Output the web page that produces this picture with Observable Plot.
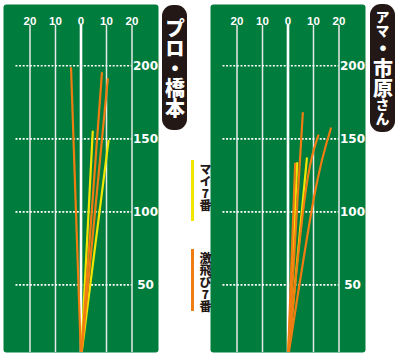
<!DOCTYPE html>
<html><head><meta charset="utf-8">
<script src="https://cdn.jsdelivr.net/npm/d3@7"></script>
<script src="https://cdn.jsdelivr.net/npm/@observablehq/plot@0.6"></script>
<style>
html,body{margin:0;padding:0;background:#fff;}
#wrap{position:relative;width:400px;height:355px;overflow:hidden;font-family:"Noto Sans CJK JP",sans-serif;}
.panel{position:absolute;top:0;}
.panel svg{display:block;}
.title{position:absolute;background:#231815;color:#fff;border-radius:11px;writing-mode:vertical-rl;text-orientation:upright;font-weight:900;display:flex;align-items:center;justify-content:center;line-height:1;}
.lgbar{position:absolute;width:3px;}
.lgtxt{position:absolute;writing-mode:vertical-rl;text-orientation:upright;font-weight:900;font-size:12px;color:#231815;line-height:1;}
</style>
</head><body>
<div id="wrap">
  <div class="panel" id="p1" style="left:0px"></div>
  <div class="panel" id="p2" style="left:207px"></div>
  <div class="title" style="left:162px;top:5px;width:25px;height:125px;font-size:20px;">プロ・橋本</div>
  <div class="title" style="left:370px;top:4px;width:25px;height:128px;font-size:20px;"><span style="font-size:14px">アマ</span>・<span>市原</span><span style="font-size:14px">さん</span></div>
  <div id="legend"></div>
</div>
<script>
// ---- data ----
const xTicks = [-20, -10, 0, 10, 20];
const xTickLabels = ["20", "10", "0", "10", "20"];
const yTicks = [200, 150, 100, 50];
const yTickLabels = ["200", "150", "100", "50"];
const seriesNames = ["マイ7番", "激飛び7番"];
const seriesColors = ["#f2e600", "#ef7d12"];

// プロ・橋本 : end points (lateral, carry)
const proMyEndX = [4.6, 10.8];
const proMyEndY = [154.9, 148.7];
const proGekiEndX = [-3.9, 8.2, 10.5];
const proGekiEndY = [198.4, 195.0, 190.9];

// アマ・市原さん
const amMyEndX = [3.6, 7.4];
const amMyEndY = [133.4, 136.6];
const amGekiEndX = [5.8, 11.9, 16.8, 2.8];
const amGekiEndY = [167.6, 152.3, 157.1, 133.0];
const amGekiMidX = [null, 6.6, 10.2, null];
const amGekiMidY = [null, 110, 110, null];

const GREEN = "#007c3d";

function buildShots(endX, endY, midX, midY, series, prefix) {
  const rows = [];
  endX.forEach((ex, i) => {
    const id = prefix + i;
    rows.push({id, series, x: 0, y: 0});
    if (midX && midX[i] != null) rows.push({id, series, x: midX[i], y: midY[i]});
    rows.push({id, series, x: ex, y: endY[i]});
  });
  return rows;
}

const proShots = [
  ...buildShots(proMyEndX, proMyEndY, null, null, seriesNames[0], "pm"),
  ...buildShots(proGekiEndX, proGekiEndY, null, null, seriesNames[1], "pg")
];
const amShots = [
  ...buildShots(amMyEndX, amMyEndY, null, null, seriesNames[0], "am"),
  ...buildShots(amGekiEndX, amGekiEndY, amGekiMidX, amGekiMidY, seriesNames[1], "ag")
];

function panel(shots) {
  return Plot.plot({
    width: 161, height: 355,
    marginLeft: 3, marginRight: 3, marginTop: 4, marginBottom: 3,
    x: {domain: [-20, 20], range: [29.5, 131.5], axis: null},
    y: {domain: [0, 200], range: [357.4, 65.3], axis: null},
    color: {domain: seriesNames, range: seriesColors},
    style: {background: "transparent"},
    marks: [
      Plot.frame({fill: GREEN, stroke: null, rx: 3}),
      Plot.ruleX(xTicks, {x: d => d, insetTop: 21, stroke: d => d === 0 ? "#ffffff" : "#e8e8e8", strokeWidth: d => d === 0 ? 2.6 : 1.5}),
      Plot.ruleY(yTicks, {y: d => d, x1: -25.5, x2: 20, stroke: "#fff", strokeWidth: 1.6, strokeDasharray: "2,1.6"}),
      Plot.text(xTicks, {x: d => d, text: (d, i) => xTickLabels[i], frameAnchor: "top", dy: 12, fill: "#fff", fontSize: 11.5, fontWeight: "bold", fontFamily: "Liberation Sans"}),
      Plot.text(yTicks, {y: d => d, text: (d, i) => yTickLabels[i], frameAnchor: "right", dx: -13, textAnchor: "middle", fill: "#fff", fontSize: 12, fontWeight: "bold", fontFamily: "DejaVu Sans"}),
      Plot.line(shots.filter(d => d.series === seriesNames[0]), {x: "x", y: "y", z: "id", stroke: "series", strokeWidth: 2.2, curve: "natural", clip: true}),
      Plot.line(shots.filter(d => d.series === seriesNames[1]), {x: "x", y: "y", z: "id", stroke: "series", strokeWidth: 2.2, curve: "natural", clip: true})
    ]
  });
}

document.getElementById("p1").appendChild(panel(proShots));
document.getElementById("p2").appendChild(panel(amShots));

// legend
const lg = document.getElementById("legend");
const lgTops = [160, 249];
const lgHeights = [61, 62];
seriesNames.forEach((name, i) => {
  const bar = document.createElement("div");
  bar.className = "lgbar";
  bar.style.left = "191px";
  bar.style.top = lgTops[i] + "px";
  bar.style.height = lgHeights[i] + "px";
  bar.style.background = seriesColors[i];
  lg.appendChild(bar);
  const t = document.createElement("div");
  t.className = "lgtxt";
  t.style.left = "199px";
  t.style.top = (lgTops[i] + 3) + "px";
  t.textContent = name;
  lg.appendChild(t);
});
</script>
</body></html>
